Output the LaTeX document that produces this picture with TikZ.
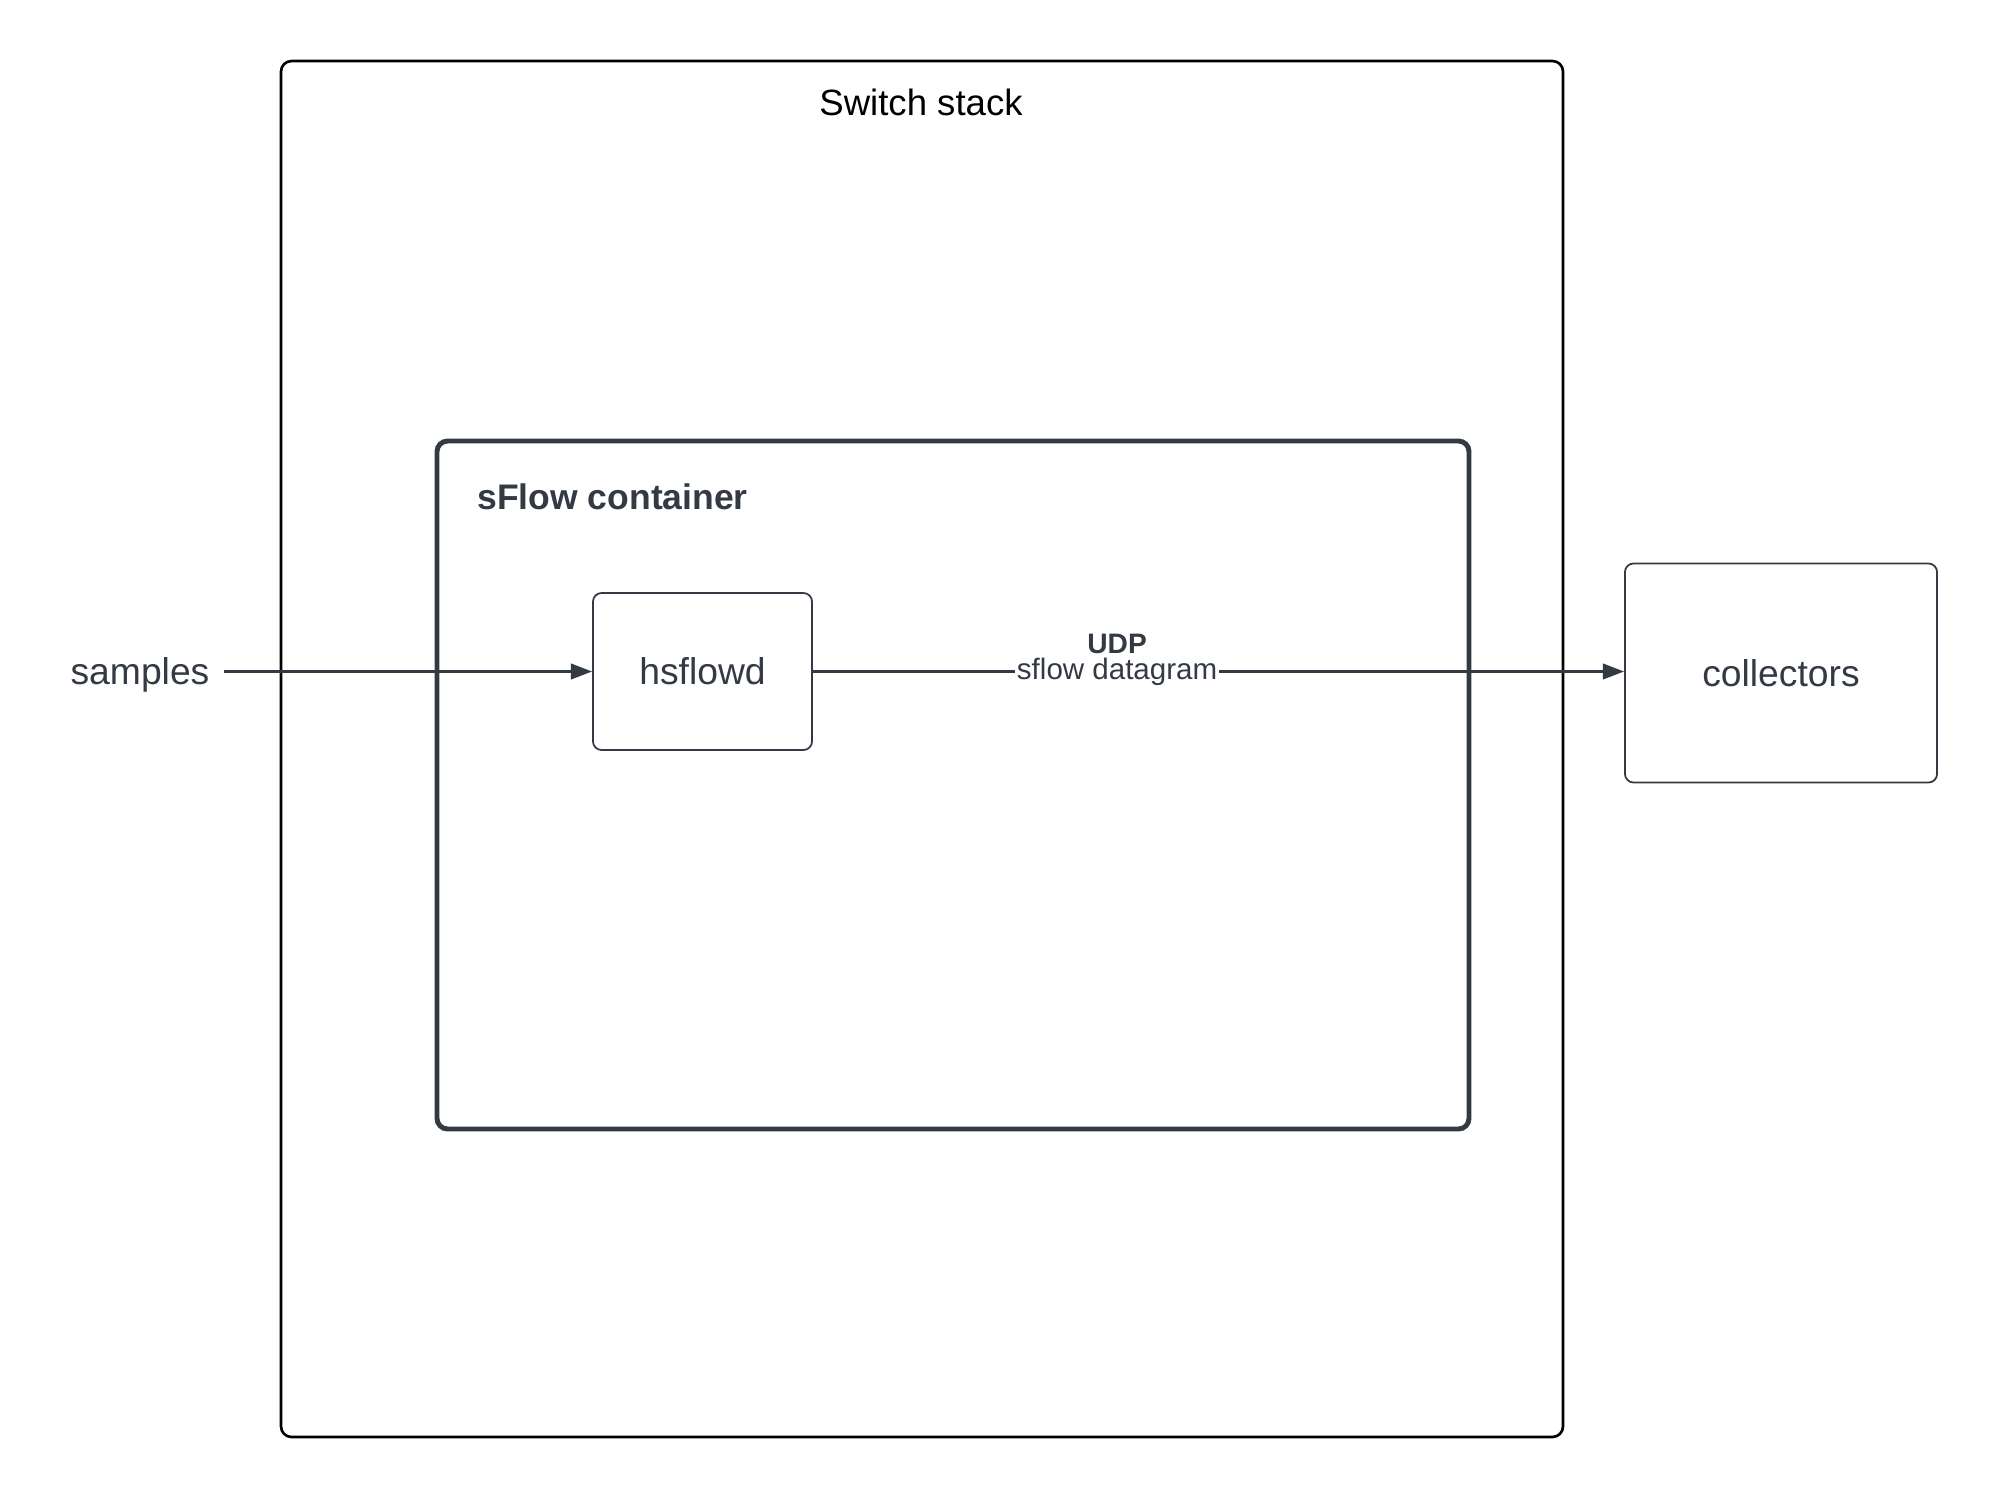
\documentclass[tikz,border=0pt]{standalone}
\usepackage{fontspec}
\setmainfont{Liberation Sans}
\usetikzlibrary{arrows.meta,positioning}
\definecolor{slate}{HTML}{343A44}
\tikzset{ % common looks of the diagram
	label/.style={text=slate, font=\fontsize{10.6}{12}\selectfont},
	proc/.style={draw=slate, line width=0.5pt, rounded corners=2.5pt, inner sep=0pt, label},
	flow/.style={draw=slate, line width=0.7pt, -{Triangle[length=6pt,width=4.4pt]}},
	edgetext/.style={text=slate, font=\fontsize{8.4}{9}\selectfont, inner sep=0.6pt}
}

\begin{document}
\begin{tikzpicture}[x=0.01cm,y=-0.01cm]
		\useasboundingbox (0,0) rectangle (2000,1500);
		% Switch stack
		\draw [line width=0.75pt, rounded corners=3pt] (281,61) rectangle (1563,1437);
		\node (stack) at (921,102) [font=\fontsize{10.4}{12}\selectfont] {Switch stack};
		% sFlow container
		\draw [draw=slate, line width=1.4pt, rounded corners=3pt] (437,441) rectangle (1469,1129);
		\node (container) at (465,497) [anchor=west, label, font=\bfseries\fontsize{10.1}{12}\selectfont] {sFlow container};
		% Nodes
		\node (hsflowd) at (702.5,671.5) [proc, minimum width=2.19cm, minimum height=1.57cm] {hsflowd};
		\node (collectors) at (1781,673) [proc, minimum width=3.12cm, minimum height=2.19cm] {collectors};
		\node (samples) at (140,675) [label, inner sep=4pt] {samples};
		% Arrows
		\draw [flow] (samples.east |- hsflowd.west) -- (hsflowd.west);
		\draw [flow] (hsflowd.east) -- node (dgram) [pos=0.375, fill=white, edgetext] {sflow datagram} (collectors.west |- hsflowd.east);
		\node (udp) [above=-0.5pt of dgram, edgetext, font=\bfseries\fontsize{8}{9}\selectfont] {UDP};
\end{tikzpicture}
\end{document}
